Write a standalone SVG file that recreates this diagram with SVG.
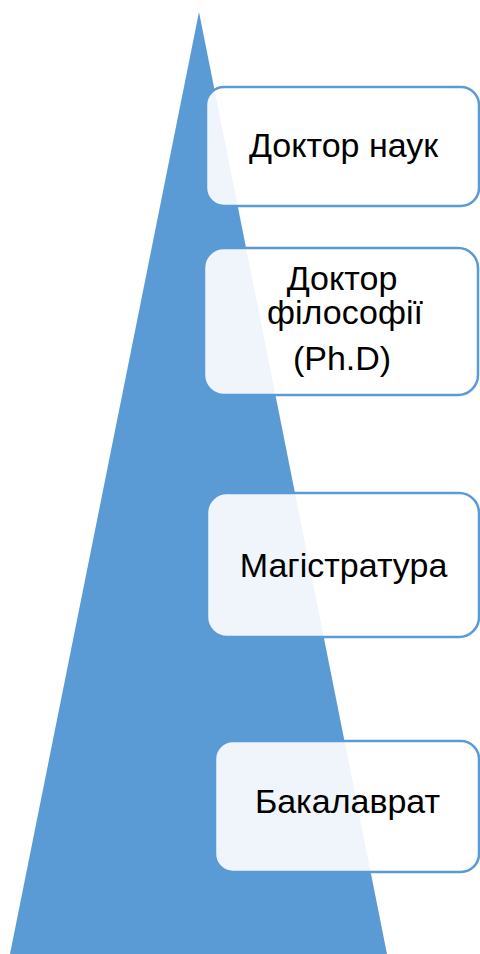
<svg xmlns="http://www.w3.org/2000/svg" width="480" height="954" viewBox="0 0 480 954">
<style>
.box{fill:#ffffff;fill-opacity:0.9;stroke:#5B9BD5;stroke-width:2.5}
.t{font-family:"Liberation Sans",Arial,sans-serif;font-size:34px;fill:#000;text-anchor:middle}
</style>
<rect width="480" height="954" fill="#ffffff"/>
<g id="pyramid"><polygon points="199,12 387,954 10,954" fill="#5B9BD5"/></g>
<g id="connectors"></g>
<g id="n1"><rect class="box" x="206" y="87" width="273" height="119" rx="18"/><text class="t" x="343.5" y="157">Доктор наук</text></g>
<g id="n2"><rect class="box" x="204" y="248" width="274" height="147" rx="20"/><text class="t" x="342" y="290">Доктор</text><text class="t" x="345" y="324">філософії</text><text class="t" x="342" y="370">(Ph.D)</text></g>
<g id="n3"><rect class="box" x="207" y="493" width="272" height="144" rx="20"/><text class="t" x="343.5" y="577">Магістратура</text></g>
<g id="n4"><rect class="box" x="215" y="741" width="264" height="131" rx="18"/><text class="t" x="347.5" y="813">Бакалаврат</text></g>
</svg>
